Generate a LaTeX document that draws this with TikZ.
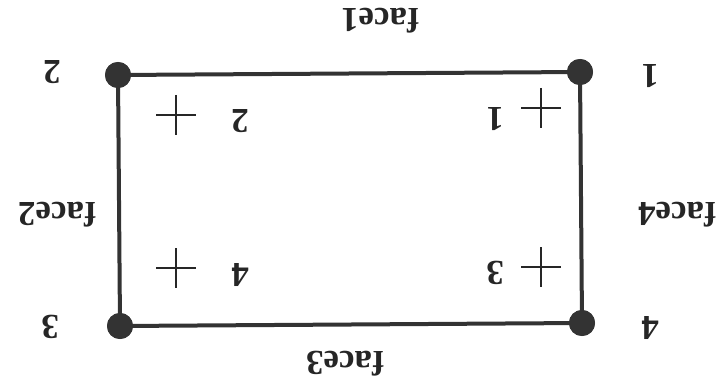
\documentclass[tikz,border=0pt]{standalone}
\usepackage{fontspec}
\setmainfont{Liberation Serif}
\begin{document}
\begin{tikzpicture}[x=1pt,y=-1pt,
  vdot/.style={circle,fill=black!80,inner sep=0pt,minimum size=26pt},
  edge/.style={line width=4pt,draw=black!80},
  lbl/.style={font=\fontsize{35}{35}\selectfont\bfseries,rotate=180,inner sep=0pt,text=black!85},
  crossmark/.style={line width=1.4pt,draw=black!85}]
\useasboundingbox (0,0) rectangle (717,385);
\node[vdot] (v2) at (118,75) {};
\node[vdot] (v1) at (580,72) {};
\node[vdot] (v3) at (120,326) {};
\node[vdot] (v4) at (582,323) {};
\draw[edge] (v2.center) -- (v1.center) -- (v4.center) -- (v3.center) -- cycle;
\node[vdot] at (v1) {};
\node[vdot] at (v2) {};
\node[vdot] at (v3) {};
\node[vdot] at (v4) {};
% outer labels
\node[lbl] (f1) at (380,21) {face1};
\node[lbl] (f2) at (57,215) {face2};
\node[lbl] (f3) at (345,364) {face3};
\node[lbl] (f4) at (677,215) {face4};
\node[lbl] (n2) at (52,72) {2};
\node[lbl] (n1) at (650,76) {1};
\node[lbl] (n3) at (50,327) {3};
\node[lbl] (n4) at (650,328) {4};
% inner labels
\node[lbl] (i2) at (240,121) {2};
\node[lbl] (i1) at (495,119) {1};
\node[lbl] (i4) at (240,275) {4};
\node[lbl] (i3) at (495,273) {3};
% crosses
\foreach \cx/\cy in {176/115, 541/108, 176/268, 541/267}{
  \draw[crossmark] (\cx-20,\cy) -- (\cx+20,\cy);
  \draw[crossmark] (\cx,\cy-20) -- (\cx,\cy+20);
}
\end{tikzpicture}
\end{document}
